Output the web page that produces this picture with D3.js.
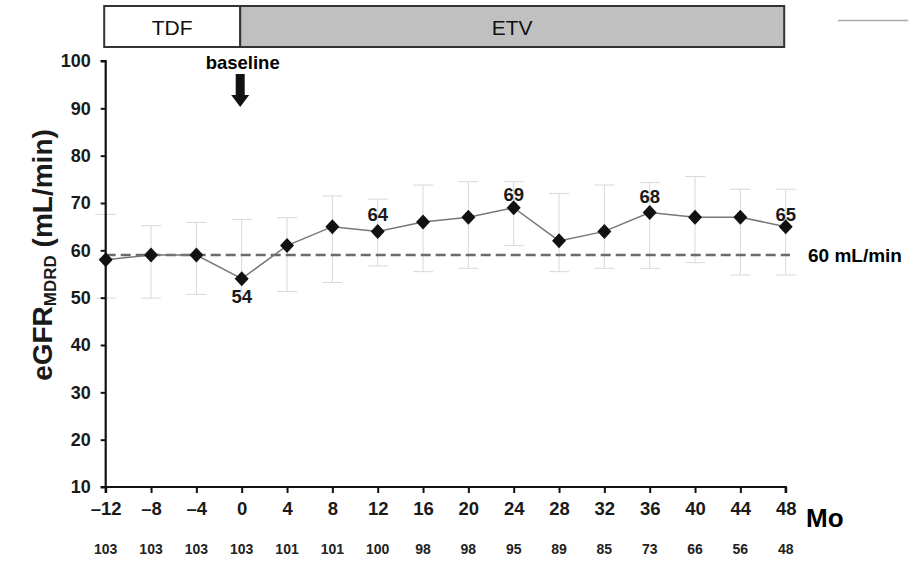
<!DOCTYPE html>
<html>
<head>
<meta charset="utf-8">
<script src="https://cdn.jsdelivr.net/npm/d3@7"></script>
<style>
body { margin: 0; background: #fff; }
text { font-family: Arial, "Liberation Sans", sans-serif; }
</style>
</head>
<body>
<script>
// donnees
var months = [-12, -8, -4, 0, 4, 8, 12, 16, 20, 24, 28, 32, 36, 40, 44, 48];
var egfr = [58, 59, 59, 54, 61, 65, 64, 66, 67, 69, 62, 64, 68, 67, 67, 65];
var upper = [67.6, 65.2, 65.9, 66.5, 66.9, 71.5, 70.8, 73.8, 74.5, 74.5, 72, 73.8, 74.3, 75.6, 72.9, 72.9];
var lower = [49.9, 49.9, 50.7, 51, 51.3, 53.2, 56.7, 55.5, 56.2, 61, 55.5, 56.2, 56.2, 57.4, 54.8, 54.8];
var nPatients = [103, 103, 103, 103, 101, 101, 100, 98, 98, 95, 89, 85, 73, 66, 56, 48];
// mois etiquetes -> decalage vertical de l'etiquette
var labeled = {0: 18, 12: -17, 24: -13, 36: -16, 48: -12};
var yTicks = [10, 20, 30, 40, 50, 60, 70, 80, 90, 100];
var refLine = 59;
var phases = [{name: "TDF", from: -12, to: 0, fill: "#ffffff"}, {name: "ETV", from: 0, to: 48, fill: "#c0c0c0"}];

var width = 908, height = 561;
var svg = d3.select("body").append("svg")
	.attr("width", width)
	.attr("height", height);

var x = d3.scaleLinear().domain([-12, 48]).range([105.7, 785.7]);
var y = d3.scaleLinear().domain([10, 100]).range([487, 61]);

// barre des traitements
var bar = svg.append("g");
bar.selectAll("rect").data(phases).enter().append("rect")
	.attr("x", d => x(d.from) - 1.5)
	.attr("y", 6)
	.attr("width", d => x(d.to) - x(d.from))
	.attr("height", 41)
	.attr("fill", d => d.fill)
	.attr("stroke", "#333")
	.attr("stroke-width", 2);
bar.selectAll("text").data(phases).enter().append("text")
	.attr("x", d => (x(d.from) + x(d.to)) / 2 - 1.5)
	.attr("y", 27)
	.attr("text-anchor", "middle")
	.attr("dominant-baseline", "central")
	.attr("font-size", 21)
	.attr("fill", "#111")
	.text(d => d.name);

// petit trait gris en haut a droite
svg.append("line")
	.attr("x1", 838).attr("x2", 908).attr("y1", 20.5).attr("y2", 20.5)
	.attr("stroke", "#aaa").attr("stroke-width", 1.5);

// baseline + fleche
svg.append("text")
	.attr("x", x(0) + 1).attr("y", 62)
	.attr("text-anchor", "middle")
	.attr("dominant-baseline", "central")
	.attr("font-size", 18.5).attr("font-weight", "bold")
	.text("baseline");
var ax0 = x(0) - 1.5;
svg.append("path")
	.attr("d", "M" + (ax0 - 4.5) + ",74 L" + (ax0 + 4.5) + ",74 L" + (ax0 + 4.5) + ",95 L" + (ax0 + 9) + ",95 L" + ax0 + ",107 L" + (ax0 - 9) + ",95 L" + (ax0 - 4.5) + ",95 Z")
	.attr("fill", "#111");

// barres d'erreur
var eb = svg.append("g");
months.forEach(function (m, i) {
	eb.append("line")
		.attr("x1", x(m)).attr("x2", x(m))
		.attr("y1", y(upper[i])).attr("y2", y(lower[i]))
		.attr("stroke", "#d8d8d8").attr("stroke-width", 1);
	[upper[i], lower[i]].forEach(function (v) {
		eb.append("line")
			.attr("x1", x(m) - 10).attr("x2", x(m) + 10)
			.attr("y1", y(v)).attr("y2", y(v))
			.attr("stroke", "#d8d8d8").attr("stroke-width", 1);
	});
});

// ligne de reference
svg.append("line")
	.attr("x1", x(-12)).attr("x2", 790)
	.attr("y1", y(refLine)).attr("y2", y(refLine))
	.attr("stroke", "#6a6a6a").attr("stroke-width", 2.5)
	.attr("stroke-dasharray", "10,5");
svg.append("text")
	.attr("x", 808).attr("y", y(refLine))
	.attr("dominant-baseline", "central")
	.attr("font-size", 19).attr("font-weight", "bold")
	.text("60 mL/min");

// axes
var yAxis = svg.append("g")
	.attr("transform", "translate(" + x(-12) + ",0)")
	.call(d3.axisLeft(y).tickValues(yTicks).tickSize(5).tickPadding(10));
var xAxis = svg.append("g")
	.attr("transform", "translate(0," + y(10) + ")")
	.call(d3.axisBottom(x).tickValues(months).tickSize(6).tickPadding(9)
		.tickFormat(d => d < 0 ? "\u2013" + Math.abs(d) : d));
[yAxis, xAxis].forEach(function (a) {
	a.select(".domain").attr("stroke", "#111").attr("stroke-width", 2.2);
	a.selectAll(".tick line").attr("stroke", "#111").attr("stroke-width", 2);
	a.selectAll("text").attr("font-family", "Arial, 'Liberation Sans', sans-serif")
		.attr("font-weight", "bold").attr("fill", "#1a1a1a");
});
yAxis.select(".domain").attr("d", "M-5," + y(100) + "H0V" + y(10) + "H-5");
xAxis.select(".domain").attr("d", "M" + x(-12) + ",6V0H" + x(48) + "V6");
yAxis.selectAll("text").attr("font-size", 18);
xAxis.selectAll("text").attr("font-size", 18.5);

svg.append("text")
	.attr("x", 806).attr("y", 518)
	.attr("dominant-baseline", "central")
	.attr("font-size", 26).attr("font-weight", "bold")
	.text("Mo");

// effectifs
svg.append("g").selectAll("text").data(nPatients).enter().append("text")
	.attr("x", (d, i) => x(months[i]))
	.attr("y", 549)
	.attr("text-anchor", "middle")
	.attr("dominant-baseline", "central")
	.attr("font-size", 14).attr("font-weight", "bold")
	.attr("fill", "#222")
	.text(d => d);

// titre axe y
var yl = svg.append("text")
	.attr("transform", "translate(42,255) rotate(-90)")
	.attr("text-anchor", "middle")
	.attr("dominant-baseline", "central")
	.attr("font-size", 28).attr("font-weight", "bold")
	.attr("fill", "#1a1a1a");
yl.append("tspan").text("eGFR");
yl.append("tspan").attr("font-size", 17).attr("dy", 8).text("MDRD");
yl.append("tspan").attr("dy", -8).text(" (mL/min)");

// courbe et points
var line = d3.line().x((d, i) => x(months[i])).y(d => y(d));
svg.append("path")
	.datum(egfr)
	.attr("d", line)
	.attr("fill", "none")
	.attr("stroke", "#777")
	.attr("stroke-width", 1.5);
svg.append("g").selectAll("path").data(egfr).enter().append("path")
	.attr("transform", (d, i) => "translate(" + x(months[i]) + "," + y(d) + ")")
	.attr("d", "M0,-7.5L7,0L0,7.5L-7,0Z")
	.attr("fill", "#111");

// etiquettes de valeurs
var labMonths = months.filter(m => labeled[m] !== undefined);
svg.append("g").selectAll("text").data(labMonths).enter().append("text")
	.attr("x", m => x(m))
	.attr("y", m => y(egfr[months.indexOf(m)]) + labeled[m])
	.attr("text-anchor", "middle")
	.attr("dominant-baseline", "central")
	.attr("font-size", 18.5).attr("font-weight", "bold")
	.attr("fill", "#1a1a1a")
	.text(m => egfr[months.indexOf(m)]);
</script>
</body>
</html>
